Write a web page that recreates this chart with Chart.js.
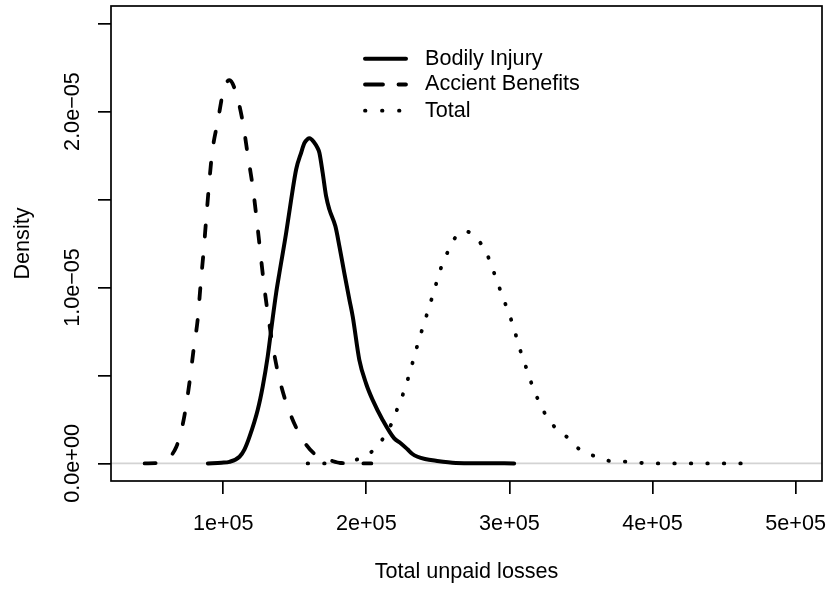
<!DOCTYPE html>
<html>
<head>
<meta charset="utf-8">
<script src="https://cdn.jsdelivr.net/npm/chart.js@4.4.1/dist/chart.umd.min.js"></script>
<style>
  body { margin: 0; background: #fff; }
  #wrap { width: 829px; height: 590px; }
</style>
</head>
<body>
<div id="wrap"><canvas id="densityChart" width="829" height="590"></canvas></div>
<script>
// density curves, values (y in units of 1e-7)
const biX = [89300, 98800, 104400, 111400, 114900, 118400, 124100, 127600, 131100, 134000, 137000, 139300,
  144000, 147500, 151000, 154500, 156700, 159000, 160300, 163700, 165800, 167200, 169500, 171900, 174200,
  178400, 181200, 184600, 188200, 190500, 195100, 200000, 204400, 211400, 219500, 224000, 228800, 232000,
  235800, 241000, 248600, 262600, 280000, 303300];
const biY = [0, 0.4, 0.9, 3.8, 8, 15.2, 30.4, 43.7, 60.8, 79, 96.9, 108.4,
  131.1, 150, 167.2, 176.7, 182, 184.4, 184.8, 182.3, 179.5, 176.6, 165.2, 151.9, 144.3,
  134.8, 123.4, 108.3, 93, 83.5, 58.9, 45, 36.1, 24.7, 14.2, 11.5, 8, 5.5,
  3.8, 2.5, 1.5, 0.3, 0.1, 0].map(v => v * 1e-7);

const abX = [45100, 54200, 59000, 63200, 67200, 70200, 73000, 76500, 79300, 82300, 84200, 86300, 88100,
  90000, 92300, 96200, 100400, 104400, 108600, 113700, 117200, 120700, 123400, 126000, 128500, 131600,
  135100, 139600, 146600, 156700, 165800, 174200, 182600, 203500];
const abY = [0, 0.2, 1.0, 4.0, 9.3, 17, 27.5, 46.3, 64.6, 82.8, 101.6, 120.5, 138.7,
  157.4, 176.8, 194.4, 212.7, 217.8, 211.6, 193.9, 175.1, 156.9, 138.7, 119.7, 101.6, 82.8,
  64.6, 46.9, 28.7, 12.1, 4.2, 1.9, 0.2, 0].map(v => v * 1e-7);

const totX = [159000, 170700, 182300, 193700, 203800, 211400, 217200, 221500, 225600, 229100, 232300, 235400,
  238700, 242100, 245500, 248900, 252200, 256700, 262100, 268400, 272100, 280200, 285600, 289500, 293500,
  297500, 301400, 304800, 308000, 311700, 315500, 319800, 324900, 331700, 340600, 348800, 359300, 370100,
  381600, 393300, 404500, 462600];
const totY = [0, 0, 0.3, 2.3, 6.7, 13.8, 21.9, 30.7, 39.3, 48.1, 57.2, 66.3,
  75.3, 84.1, 93.1, 102.4, 111.2, 119.9, 128.3, 131.9, 131.3, 124.8, 116.5, 107.8, 98.7,
  89.9, 81.2, 72.1, 63.2, 54.4, 45.3, 36.6, 28.2, 20.6, 14.7, 8.1, 4.2, 1.4,
  1.0, 0.2, 0, 0].map(v => v * 1e-7);

const seriesNames = ['Bodily Injury', 'Accient Benefits', 'Total'];
const xTicks = [100000, 200000, 300000, 400000, 500000];
const xTickLabels = ['1e+05', '2e+05', '3e+05', '4e+05', '5e+05'];
const yTicks = [0, 5e-6, 1e-5, 1.5e-5, 2e-5, 2.5e-5];
const yTickLabels = ['0.0e+00', '', '1.0e\u221205', '', '2.0e\u221205', ''];
const xRange = [21600, 518400];
const yRange = [-1e-6, 2.6e-5];

const pts = (xs, ys) => xs.map((x, i) => ({x: x, y: ys[i]}));

Chart.defaults.font.family = '"Liberation Sans", Arial, Helvetica, sans-serif';
Chart.defaults.font.size = 21.6;
Chart.defaults.color = '#000';

// box, rotated y labels and the legend, R style
const rPlot = {
  id: 'rPlot',
  afterDraw(chart) {
    const ctx = chart.ctx;
    const ca = chart.chartArea;
    const y = chart.scales.y;
    ctx.save();
    ctx.strokeStyle = '#000';
    ctx.lineWidth = 1.7;
    ctx.strokeRect(ca.left, ca.top, ca.right - ca.left, ca.bottom - ca.top);

    ctx.fillStyle = '#000';
    ctx.font = '21.6px "Liberation Sans", Arial, sans-serif';
    ctx.textAlign = 'center';
    ctx.textBaseline = 'middle';
    yTicks.forEach((v, i) => {
      if (!yTickLabels[i]) return;
      ctx.save();
      ctx.translate(73, y.getPixelForValue(v));
      ctx.rotate(-Math.PI / 2);
      ctx.fillText(yTickLabels[i], 0, 0);
      ctx.restore();
    });

    // legend
    const rows = [58.8, 84.5, 110.7];
    chart.data.datasets.slice(0, 3).forEach((ds, i) => {
      ctx.save();
      ctx.strokeStyle = ds.borderColor;
      ctx.lineWidth = ds.borderWidth;
      ctx.lineCap = ds.borderCapStyle || 'butt';
      ctx.setLineDash(ds.legendDash || []);
      ctx.beginPath();
      ctx.moveTo(365, rows[i]);
      ctx.lineTo(406, rows[i]);
      ctx.stroke();
      ctx.restore();
      ctx.textAlign = 'left';
      ctx.fillText(ds.label, 425, rows[i]);
    });
    ctx.restore();
  }
};

new Chart(document.getElementById('densityChart'), {
  type: 'line',
  data: {
    datasets: [
      {
        label: seriesNames[0], data: pts(biX, biY),
        borderColor: '#000', borderWidth: 4, borderCapStyle: 'round',
        pointRadius: 0, cubicInterpolationMode: 'monotone'
      },
      {
        label: seriesNames[1], data: pts(abX, abY),
        borderColor: '#000', borderWidth: 3.8, borderCapStyle: 'round',
        borderDash: [11, 20.5], legendDash: [18, 15.5],
        pointRadius: 0, cubicInterpolationMode: 'monotone'
      },
      {
        label: seriesNames[2], data: pts(totX, totY),
        borderColor: '#000', borderWidth: 3.8, borderCapStyle: 'round',
        borderDash: [0.5, 16], legendDash: [0.5, 16.5],
        pointRadius: 0, cubicInterpolationMode: 'monotone'
      },
      {
        label: 'zero', data: pts(xRange, [0, 0]),
        borderColor: '#d3d3d3', borderWidth: 1.8, pointRadius: 0
      }
    ]
  },
  options: {
    responsive: false,
    animation: false,
    devicePixelRatio: 1,
    layout: { padding: { top: 6, right: 7, left: 0, bottom: 0 } },
    plugins: { legend: { display: false }, tooltip: { enabled: false } },
    scales: {
      x: {
        type: 'linear',
        min: xRange[0], max: xRange[1],
        afterBuildTicks: s => { s.ticks = xTicks.map(v => ({value: v})); },
        afterFit: s => { s.height = 109; s.paddingLeft = 0; s.paddingRight = 0; },
        grid: { drawOnChartArea: false, drawTicks: true, tickLength: 13, color: '#000', lineWidth: 1.7 },
        border: { display: false },
        ticks: {
          autoSkip: false, maxRotation: 0, padding: 17,
          callback: (v, i) => xTickLabels[i]
        },
        title: { display: true, text: 'Total unpaid losses', padding: { top: 0, bottom: 4.5 } }
      },
      y: {
        type: 'linear',
        min: yRange[0], max: yRange[1],
        afterBuildTicks: s => { s.ticks = yTicks.map(v => ({value: v})); },
        afterFit: s => { s.width = 111; s.paddingTop = 0; s.paddingBottom = 0; },
        grid: { drawOnChartArea: false, drawTicks: true, tickLength: 13, color: '#000', lineWidth: 1.7 },
        border: { display: false },
        ticks: { display: false },
        title: { display: true, text: 'Density', padding: { top: 10, bottom: 0 } }
      }
    }
  },
  plugins: [rPlot]
});
</script>
</body>
</html>
